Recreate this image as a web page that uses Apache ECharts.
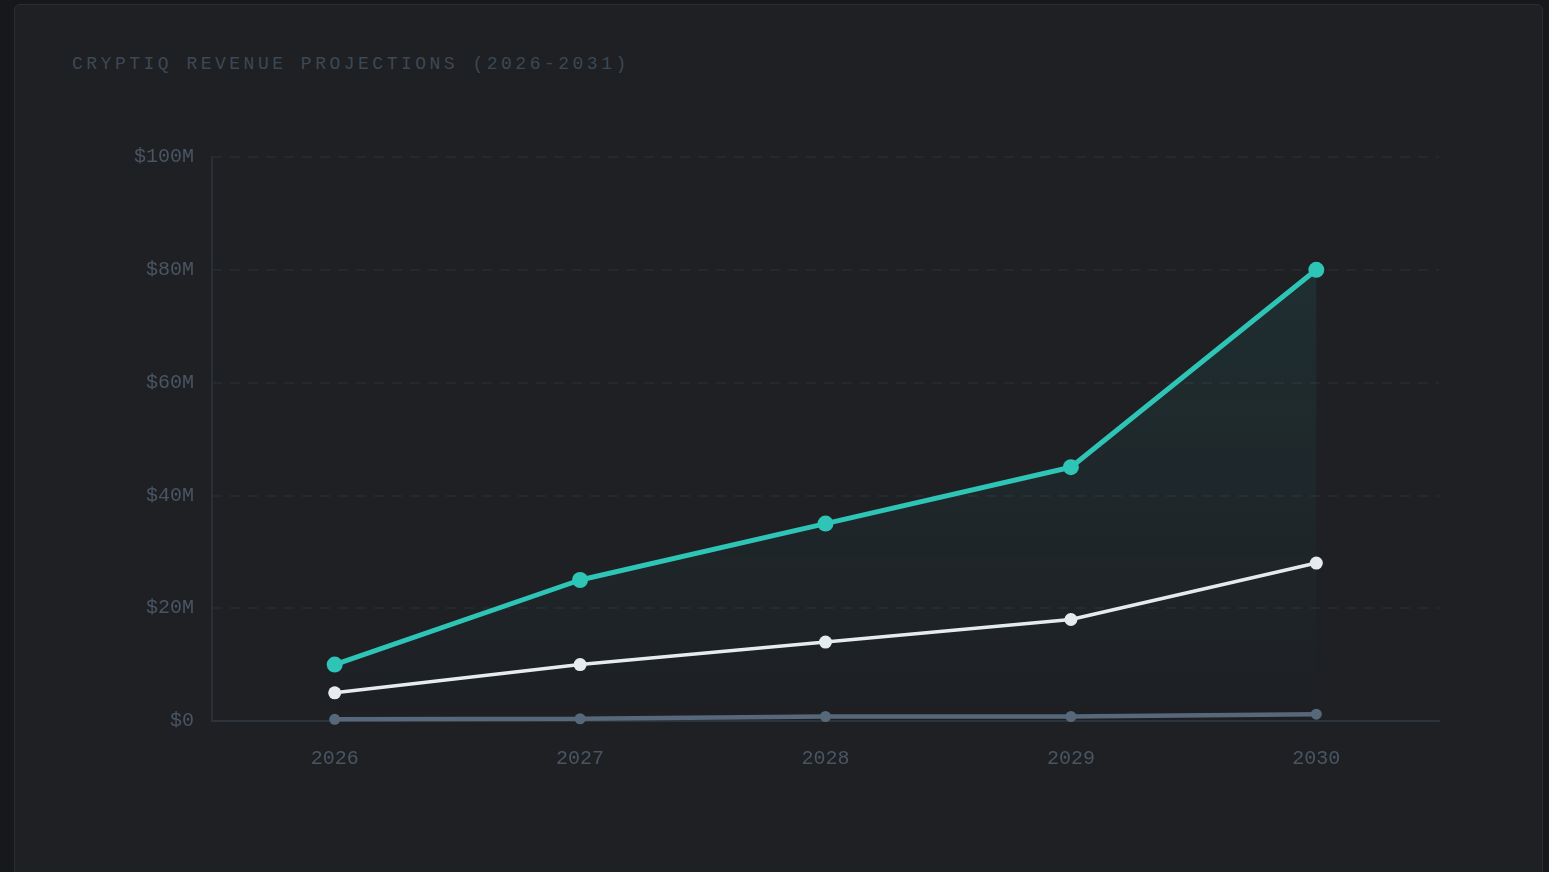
<!DOCTYPE html>
<html>
<head>
<meta charset="utf-8">
<script src="https://cdn.jsdelivr.net/npm/echarts@6/dist/echarts.min.js"></script>
<style>
html,body{margin:0;padding:0;width:1549px;height:872px;overflow:hidden;background:#16181b;}
#panel{position:absolute;left:14px;top:4px;width:1529px;height:900px;background:#1e2024;border:1px solid #2a2e33;border-radius:6px;box-sizing:border-box;}
#title{position:absolute;left:72px;top:53px;font-family:'Courier New','Nimbus Mono PS','FreeMono','Liberation Mono',monospace;font-size:18px;letter-spacing:3.5px;color:#3d4853;white-space:nowrap;line-height:22px;}
#chart{position:absolute;left:0;top:0;width:1549px;height:872px;}
</style>
</head>
<body>
<div id="panel"></div>
<div id="title">CRYPTIQ REVENUE PROJECTIONS (2026-2031)</div>
<div id="chart"></div>
<script>
const years = ['2026', '2027', '2028', '2029', '2030'];
const optimistic = [10, 25, 35, 45, 80];
const baseCase = [5, 10, 14, 18, 28];
const conservative = [0.3, 0.4, 0.8, 0.8, 1.2];
const yTicks = [0, 20, 40, 60, 80, 100];
const yTickLabels = ['$0', '$20M', '$40M', '$60M', '$80M', '$100M'];

const chart = echarts.init(document.getElementById('chart'), null, {renderer: 'canvas'});
const font = "'Courier New', 'Nimbus Mono PS', 'FreeMono', 'Liberation Mono', monospace";
chart.setOption({
  backgroundColor: 'transparent',
  animation: false,
  grid: {left: 212, right: 110, top: 157, bottom: 151, containLabel: false},
  xAxis: {
    type: 'category',
    data: years,
    boundaryGap: true,
    axisLine: {show: true, lineStyle: {color: '#2d333a', width: 2}},
    axisTick: {show: false},
    axisLabel: {color: '#4a5563', fontFamily: font, fontSize: 20, margin: 28},
    splitLine: {show: false}
  },
  yAxis: {
    type: 'value',
    min: 0, max: 100, interval: 20,
    axisLine: {show: true, lineStyle: {color: '#2a2f35', width: 2}},
    axisTick: {show: false},
    axisLabel: {
      color: '#4a5563', fontFamily: font, fontSize: 20, margin: 18,
      padding: [6, 0, 0, 0],
      formatter: v => yTickLabels[yTicks.indexOf(v)]
    },
    splitLine: {show: true, lineStyle: {color: '#292d32', type: [10, 8], width: 1.5}}
  },
  series: [
    {
      name: 'Conservative', type: 'line', data: conservative,
      symbol: 'circle', symbolSize: 11, showSymbol: true,
      lineStyle: {color: '#56687a', width: 4.5},
      itemStyle: {color: '#56687a'},
      z: 2
    },
    {
      name: 'Base', type: 'line', data: baseCase,
      symbol: 'circle', symbolSize: 13,
      lineStyle: {color: '#e8ecf0', width: 3.5},
      itemStyle: {color: '#e8ecf0'},
      z: 3
    },
    {
      name: 'Optimistic', type: 'line', data: optimistic,
      symbol: 'circle', symbolSize: 16,
      lineStyle: {color: '#2ec4b6', width: 5},
      itemStyle: {color: '#2ec4b6'},
      areaStyle: {
        color: new echarts.graphic.LinearGradient(0, 0, 0, 1, [
          {offset: 0, color: 'rgba(46,196,182,0.13)'},
          {offset: 1, color: 'rgba(46,196,182,0)'}
        ])
      },
      z: 4
    }
  ]
});
</script>
</body>
</html>
